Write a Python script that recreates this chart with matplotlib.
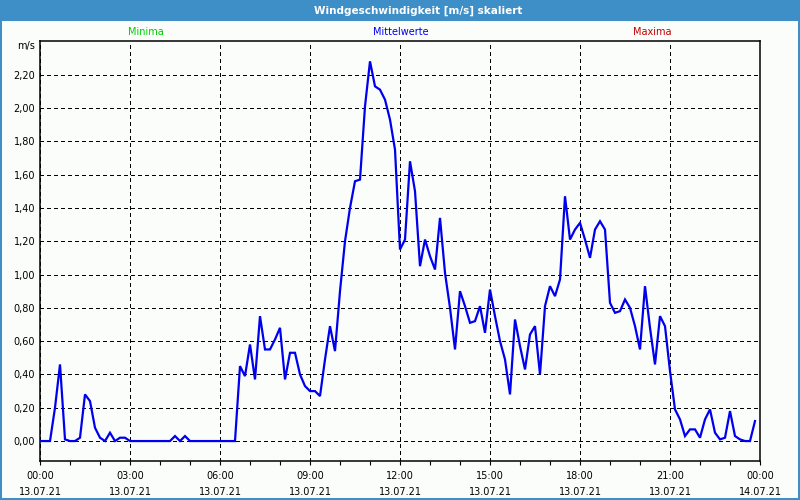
import numpy as np
import matplotlib
matplotlib.use("Agg")
import matplotlib.pyplot as plt
from matplotlib.patches import Rectangle

title = "Windgeschwindigkeit [m/s] skaliert"
legend_labels = ["Minima", "Mittelwerte", "Maxima"]
legend_colors = ["#00CC00", "#0000EE", "#C00000"]
unit = "m/s"
interval_min = 10

# 10-minute mean wind speed (m/s), 13.07.21 00:00 .. 23:50
speed = [
    0.00, 0.00, 0.00, 0.20, 0.46, 0.01, 0.00, 0.00, 0.02, 0.28, 0.24, 0.08,
    0.02, 0.00, 0.05, 0.00, 0.02, 0.02, 0.00, 0.00, 0.00, 0.00, 0.00, 0.00,
    0.00, 0.00, 0.00, 0.03, 0.00, 0.03, 0.00, 0.00, 0.00, 0.00, 0.00, 0.00,
    0.00, 0.00, 0.00, 0.00, 0.45, 0.39, 0.58, 0.37, 0.75, 0.55, 0.55, 0.61,
    0.68, 0.37, 0.53, 0.53, 0.40, 0.33, 0.30, 0.30, 0.27, 0.49, 0.69, 0.54,
    0.90, 1.20, 1.40, 1.56, 1.57, 2.01, 2.28, 2.13, 2.11, 2.05, 1.93, 1.75,
    1.15, 1.21, 1.68, 1.50, 1.05, 1.21, 1.11, 1.03, 1.34, 1.01, 0.80, 0.55,
    0.90, 0.81, 0.71, 0.72, 0.81, 0.65, 0.91, 0.75, 0.60, 0.49, 0.28, 0.73,
    0.57, 0.43, 0.64, 0.69, 0.40, 0.81, 0.93, 0.87, 0.97, 1.47, 1.21, 1.27,
    1.31, 1.21, 1.10, 1.27, 1.32, 1.27, 0.83, 0.77, 0.78, 0.85, 0.80, 0.69,
    0.55, 0.93, 0.68, 0.46, 0.75, 0.69, 0.42, 0.19, 0.13, 0.03, 0.07, 0.07,
    0.02, 0.13, 0.19, 0.05, 0.01, 0.02, 0.18, 0.03, 0.01, 0.00, 0.00, 0.12,
]

tick_hours = [0, 3, 6, 9, 12, 15, 18, 21, 24]
tick_times = ["00:00", "03:00", "06:00", "09:00", "12:00", "15:00", "18:00", "21:00", "00:00"]
tick_dates = ["13.07.21"] * 8 + ["14.07.21"]
y_ticks = [0.0, 0.2, 0.4, 0.6, 0.8, 1.0, 1.2, 1.4, 1.6, 1.8, 2.0, 2.2]

hours = np.arange(len(speed)) * interval_min / 60.0

W, H = 800, 500
bg = "#FBFDFB"
bar = "#3E8FC7"
fs = 7

fig = plt.figure(figsize=(W / 100, H / 100), dpi=100, facecolor=bg)

# title bar and window border
fig.patches.append(Rectangle((0, 1 - 21 / H), 1, 21 / H, transform=fig.transFigure,
                             facecolor=bar, edgecolor="none", zorder=0))
fig.patches.append(Rectangle((0, 0), 1, 1, transform=fig.transFigure,
                             facecolor="none", edgecolor=bar, lw=2.9, zorder=5))
fig.text(418 / W, 1 - 10.5 / H, title, color="white", fontweight="bold",
         fontsize=7.5, ha="center", va="center")

for lab, col, xc in zip(legend_labels, legend_colors, [146, 401, 652]):
    fig.text(xc / W, 1 - 32 / H, lab, color=col, fontsize=fs, ha="center", va="center")

ax_left, ax_right, ax_top, ax_bottom = 40, 760, 40.7, 460.7
ax = fig.add_axes([ax_left / W, 1 - ax_bottom / H, (ax_right - ax_left) / W,
                   (ax_bottom - ax_top) / H])
ax.set_facecolor(bg)

ax.plot(hours, speed, color="#0000EE", lw=1.6, solid_joinstyle="miter", zorder=3)

ax.set_xlim(0, 24)
ax.set_ylim(-0.118, 2.404)

ax.set_xticks(tick_hours)
ax.set_xticklabels([f"{t}\n{d}" for t, d in zip(tick_times, tick_dates)],
                   fontsize=fs, linespacing=1.75)
ax.set_xticks(np.arange(0, 25, 1), minor=True)
ax.tick_params(axis="x", which="both", direction="out", length=3, width=0.8,
               pad=4.5, top=False)
ax.set_yticks(y_ticks)
ax.set_yticklabels([f"{v:.2f}".replace(".", ",") for v in y_ticks], fontsize=fs)
ax.tick_params(axis="y", length=0, pad=3.5)

ax.grid(True, which="major", color="black", lw=0.75, linestyle=(0, (3, 3)),
        antialiased=False)
for sp in ax.spines.values():
    sp.set_linewidth(1.1)
    sp.set_color("black")

fig.text(35 / W, 1 - 46 / H, unit, fontsize=fs, ha="right", va="center")

fig.savefig("out.png", dpi=100, facecolor=bg)
